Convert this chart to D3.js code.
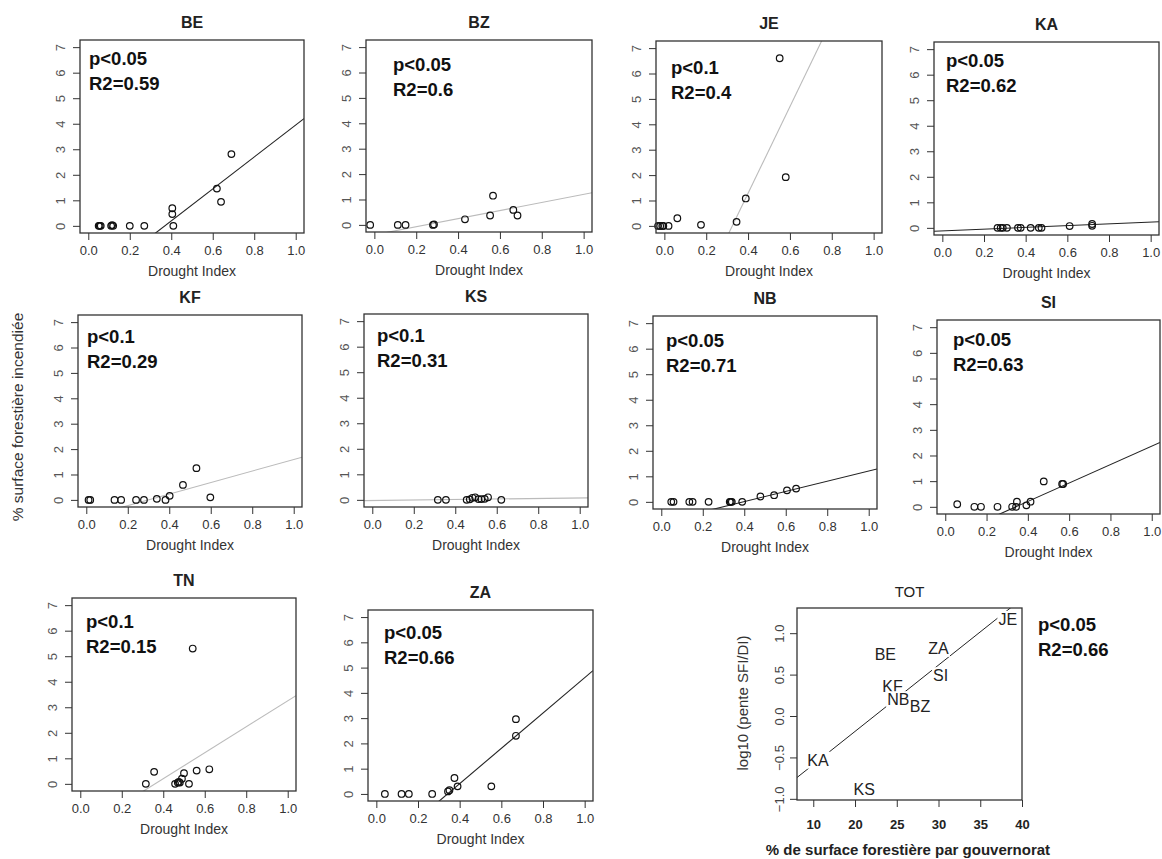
<!DOCTYPE html>
<html>
<head>
<meta charset="utf-8">
<script src="https://cdn.jsdelivr.net/npm/d3@7"></script>
<style>
body { margin: 0; background: #fff; }
svg { display: block; font-family: "Liberation Sans", Arial, sans-serif; }
</style>
</head>
<body>
<svg id="chart" width="1162" height="859"></svg>
<script>
// ---- values ----
var panelNames = ["BE", "BZ", "JE", "KA", "KF", "KS", "NB", "SI", "TN", "ZA"];

var droughtIndex = [
	[0.05, 0.055, 0.06, 0.11, 0.115, 0.12, 0.2, 0.27, 0.405, 0.405, 0.41, 0.62, 0.64, 0.69],
	[-0.02, 0.112, 0.149, 0.28, 0.285, 0.433, 0.553, 0.567, 0.664, 0.684],
	[-0.03, -0.02, -0.01, -0.005, 0.02, 0.062, 0.175, 0.345, 0.389, 0.551, 0.58],
	[0.265, 0.28, 0.29, 0.31, 0.363, 0.376, 0.424, 0.463, 0.476, 0.611, 0.719, 0.719],
	[0.011, 0.019, 0.136, 0.168, 0.24, 0.278, 0.34, 0.382, 0.402, 0.466, 0.531, 0.598],
	[0.316, 0.355, 0.455, 0.47, 0.483, 0.496, 0.512, 0.526, 0.542, 0.558, 0.622],
	[0.048, 0.059, 0.135, 0.151, 0.228, 0.33, 0.335, 0.34, 0.39, 0.478, 0.544, 0.606, 0.65],
	[0.058, 0.141, 0.173, 0.253, 0.324, 0.343, 0.347, 0.393, 0.413, 0.477, 0.566, 0.571],
	[0.316, 0.356, 0.457, 0.47, 0.475, 0.48, 0.49, 0.5, 0.524, 0.542, 0.561, 0.622],
	[0.041, 0.121, 0.156, 0.268, 0.344, 0.351, 0.375, 0.39, 0.552, 0.67, 0.67]
];

var burnedPct = [
	[0, 0, 0, 0, 0.03, 0, 0, 0, 0.69, 0.46, 0, 1.46, 0.94, 2.81],
	[0, 0, 0, 0, 0.02, 0.22, 0.37, 1.15, 0.59, 0.37],
	[0, 0, 0, 0, 0, 0.3, 0.04, 0.16, 1.08, 6.6, 1.92],
	[0, 0, 0, 0, 0, 0, 0, 0, 0, 0.07, 0.15, 0.08],
	[0, 0, 0, 0, 0, 0, 0.04, 0, 0.16, 0.59, 1.25, 0.1],
	[0, 0, 0, 0.02, 0.08, 0.1, 0.03, 0.03, 0.04, 0.1, 0],
	[0, 0, 0, 0, 0, 0, 0, 0, 0, 0.21, 0.26, 0.45, 0.52],
	[0.1, 0, 0, 0, 0, 0, 0.2, 0.06, 0.2, 0.99, 0.89, 0.89],
	[0, 0.47, 0, 0.05, 0.08, 0.05, 0.2, 0.42, 0, 5.3, 0.52, 0.57],
	[0, 0, 0, 0, 0.1, 0.15, 0.63, 0.3, 0.3, 2.3, 2.96]
];

var pLabels = ["p<0.05", "p<0.05", "p<0.1", "p<0.05", "p<0.1", "p<0.1", "p<0.05", "p<0.05", "p<0.1", "p<0.05"];
var r2Labels = ["R2=0.59", "R2=0.6", "R2=0.4", "R2=0.62", "R2=0.29", "R2=0.31", "R2=0.71", "R2=0.63", "R2=0.15", "R2=0.66"];
var fitIntercept = [-2.31, -0.39, -5.54, -0.117, -0.68, -0.026, -0.79, -1.227, -1.83, -2.39];
var fitSlope = [6.26, 1.59, 17.06, 0.34, 2.27, 0.10, 2.0, 3.59, 5.08, 6.99];

var xTicks = [0, 0.2, 0.4, 0.6, 0.8, 1.0];
var yTicks = [0, 1, 2, 3, 4, 5, 6, 7];

// summary panel (TOT)
var totNames = ["JE", "ZA", "BE", "SI", "KF", "NB", "BZ", "KA", "KS"];
var totForest = [38.29, 29.99, 23.63, 30.25, 24.5, 25.18, 27.79, 15.56, 21.1];
var totLogSlope = [1.17, 0.82, 0.74, 0.49, 0.36, 0.20, 0.12, -0.53, -0.89];
var totFit = [-1.788, 0.0801];
var totXTicks = [15, 20, 25, 30, 35, 40];
var totXTickLabels = ["10", "20", "25", "30", "35", "40"];
var totYTicks = [-1, -0.5, 0, 0.5, 1];

// ---- layout (plot boxes in px, label offsets) ----
var boxes = [
	{l: 80, r: 304, t: 40, b: 233, px: 9, py: 25},
	{l: 366, r: 592, t: 40, b: 232, px: 27, py: 31},
	{l: 656, r: 882, t: 41, b: 233, px: 15, py: 33},
	{l: 934, r: 1159, t: 42, b: 235, px: 12, py: 25},
	{l: 78, r: 302, t: 315, b: 507, px: 9, py: 28},
	{l: 364, r: 588, t: 314, b: 507, px: 13, py: 28},
	{l: 653, r: 877, t: 316, b: 509, px: 13, py: 31},
	{l: 937, r: 1160, t: 320, b: 514, px: 16, py: 26},
	{l: 72, r: 296, t: 598, b: 791, px: 14, py: 30},
	{l: 368, r: 593, t: 610, b: 801, px: 16, py: 29}
];
var fitColor = ["#222", "#bbb", "#bbb", "#222", "#bbb", "#bbb", "#222", "#222", "#bbb", "#222"];
var totBox = {l: 797, r: 1022, t: 608, b: 800};

var svg = d3.select("#chart");
svg.append("rect").attr("width", 1162).attr("height", 859).attr("fill", "#fff");

// rotate y tick labels R-style (parallel to the axis)
function rStyleY(g, off) {
	g.select(".domain").remove();
	g.selectAll(".tick line").attr("stroke", "#333");
	g.selectAll(".tick text")
		.attr("transform", "rotate(-90)")
		.attr("x", 0)
		.attr("y", -off)
		.attr("dy", 0)
		.attr("text-anchor", "middle");
}

function drawPanel(i) {
	var bx = boxes[i];
	var x = d3.scaleLinear().domain([-0.04, 1.04]).range([bx.l, bx.r]);
	var y = d3.scaleLinear().domain([-0.28, 7.28]).range([bx.b, bx.t]);
	var g = svg.append("g");

	g.append("clipPath").attr("id", "clip" + i)
		.append("rect")
		.attr("x", bx.l).attr("y", bx.t)
		.attr("width", bx.r - bx.l).attr("height", bx.b - bx.t);

	// fitted line
	var dom = x.domain();
	g.append("line")
		.attr("clip-path", "url(#clip" + i + ")")
		.attr("x1", x(dom[0])).attr("y1", y(fitIntercept[i] + fitSlope[i] * dom[0]))
		.attr("x2", x(dom[1])).attr("y2", y(fitIntercept[i] + fitSlope[i] * dom[1]))
		.attr("stroke", fitColor[i]).attr("stroke-width", 1.1);

	// points
	g.selectAll("circle.pt")
		.data(droughtIndex[i].map(function(d, k) { return [d, burnedPct[i][k]]; }))
		.enter().append("circle")
		.attr("class", "pt")
		.attr("cx", function(d) { return x(d[0]); })
		.attr("cy", function(d) { return y(d[1]); })
		.attr("r", 3.3)
		.attr("fill", "none")
		.attr("stroke", "#111")
		.attr("stroke-width", 1.2);

	// box
	g.append("rect")
		.attr("x", bx.l).attr("y", bx.t)
		.attr("width", bx.r - bx.l).attr("height", bx.b - bx.t)
		.attr("fill", "none").attr("stroke", "#333").attr("stroke-width", 1.3);

	// axes
	var xa = g.append("g").attr("transform", "translate(0," + bx.b + ")")
		.call(d3.axisBottom(x).tickValues(xTicks).tickSize(7).tickFormat(d3.format(".1f")));
	xa.select(".domain").remove();
	xa.selectAll(".tick line").attr("stroke", "#333");
	xa.selectAll(".tick text").attr("y", 22).attr("dy", 0)
		.attr("font-size", 13).attr("fill", "#333").attr("font-family", "Liberation Sans, Arial");

	var ya = g.append("g").attr("transform", "translate(" + bx.l + ",0)")
		.call(d3.axisLeft(y).tickValues(yTicks).tickSize(7).tickFormat(d3.format("d")));
	rStyleY(ya, 15);
	ya.selectAll(".tick text").attr("font-size", 13).attr("fill", "#555").attr("font-family", "Liberation Sans, Arial");

	// title and labels
	var cx = (bx.l + bx.r) / 2;
	g.append("text").attr("x", cx).attr("y", bx.t - 12)
		.attr("text-anchor", "middle").attr("font-weight", "bold").attr("font-size", 16)
		.attr("fill", "#222").text(panelNames[i]);
	g.append("text").attr("x", cx).attr("y", bx.b + 43)
		.attr("text-anchor", "middle").attr("font-size", 14).attr("fill", "#333")
		.text("Drought Index");
	g.append("text").attr("x", bx.l + bx.px).attr("y", bx.t + bx.py)
		.attr("font-weight", "bold").attr("font-size", 18.5).attr("fill", "#111").text(pLabels[i]);
	g.append("text").attr("x", bx.l + bx.px).attr("y", bx.t + bx.py + 25)
		.attr("font-weight", "bold").attr("font-size", 18.5).attr("fill", "#111").text(r2Labels[i]);
}

for (var i = 0; i < panelNames.length; i++) drawPanel(i);

// common y label
svg.append("text")
	.attr("transform", "translate(23,417) rotate(-90)")
	.attr("text-anchor", "middle").attr("font-size", 15.5).attr("fill", "#333")
	.text("% surface forestière incendiée");

// ---- TOT panel ----
(function() {
	var bx = totBox;
	var x = d3.scaleLinear().domain([13.05, 40]).range([bx.l, bx.r]);
	var y = d3.scaleLinear().domain([-1.014, 1.304]).range([bx.b, bx.t]);
	var g = svg.append("g");

	g.append("clipPath").attr("id", "clipTot")
		.append("rect")
		.attr("x", bx.l).attr("y", bx.t)
		.attr("width", bx.r - bx.l).attr("height", bx.b - bx.t);

	var dom = x.domain();
	g.append("line")
		.attr("clip-path", "url(#clipTot)")
		.attr("x1", x(dom[0])).attr("y1", y(totFit[0] + totFit[1] * dom[0]))
		.attr("x2", x(dom[1])).attr("y2", y(totFit[0] + totFit[1] * dom[1]))
		.attr("stroke", "#222").attr("stroke-width", 1);

	var lab = g.selectAll("g.lab")
		.data(totNames.map(function(n, k) { return {n: n, x: totForest[k], y: totLogSlope[k]}; }))
		.enter().append("g").attr("class", "lab");
	var txt = lab.append("text")
		.attr("x", function(d) { return x(d.x); })
		.attr("y", function(d) { return y(d.y); })
		.attr("dy", "0.36em")
		.attr("text-anchor", "middle")
		.attr("font-size", 16).attr("fill", "#222")
		.text(function(d) { return d.n; });
	// white backing so the fit line is hidden behind the labels
	txt.each(function() {
		var bb = this.getBBox();
		d3.select(this.parentNode).insert("rect", "text")
			.attr("x", bb.x - 1).attr("y", bb.y)
			.attr("width", bb.width + 2).attr("height", bb.height)
			.attr("fill", "#fff");
	});

	g.append("rect")
		.attr("x", bx.l).attr("y", bx.t)
		.attr("width", bx.r - bx.l).attr("height", bx.b - bx.t)
		.attr("fill", "none").attr("stroke", "#333").attr("stroke-width", 1.3);

	var xa = g.append("g").attr("transform", "translate(0," + bx.b + ")")
		.call(d3.axisBottom(x).tickValues(totXTicks).tickSize(7)
			.tickFormat(function(d, k) { return totXTickLabels[k]; }));
	xa.select(".domain").remove();
	xa.selectAll(".tick line").attr("stroke", "#333");
	xa.selectAll(".tick text").attr("y", 29).attr("dy", 0)
		.attr("font-size", 13).attr("font-weight", "bold").attr("fill", "#222")
		.attr("font-family", "Liberation Sans, Arial");

	var ya = g.append("g").attr("transform", "translate(" + bx.l + ",0)")
		.call(d3.axisLeft(y).tickValues(totYTicks).tickSize(7).tickFormat(d3.format(".1f")));
	rStyleY(ya, 13);
	ya.selectAll(".tick text").attr("font-size", 13).attr("fill", "#444").attr("font-family", "Liberation Sans, Arial");

	g.append("text").attr("x", (bx.l + bx.r) / 2).attr("y", bx.t - 11)
		.attr("text-anchor", "middle").attr("font-size", 15).attr("fill", "#222").text("TOT");
	g.append("text").attr("x", 908).attr("y", 855)
		.attr("text-anchor", "middle").attr("font-size", 15).attr("font-weight", "bold").attr("fill", "#222")
		.text("% de surface forestière par gouvernorat");
	g.append("text").attr("transform", "translate(748,703) rotate(-90)")
		.attr("text-anchor", "middle").attr("font-size", 15).attr("fill", "#333")
		.text("log10 (pente SFI/DI)");
	g.append("text").attr("x", 1038).attr("y", 631)
		.attr("font-weight", "bold").attr("font-size", 18.5).attr("fill", "#111").text("p<0.05");
	g.append("text").attr("x", 1038).attr("y", 656)
		.attr("font-weight", "bold").attr("font-size", 18.5).attr("fill", "#111").text("R2=0.66");
})();
</script>
</body>
</html>
